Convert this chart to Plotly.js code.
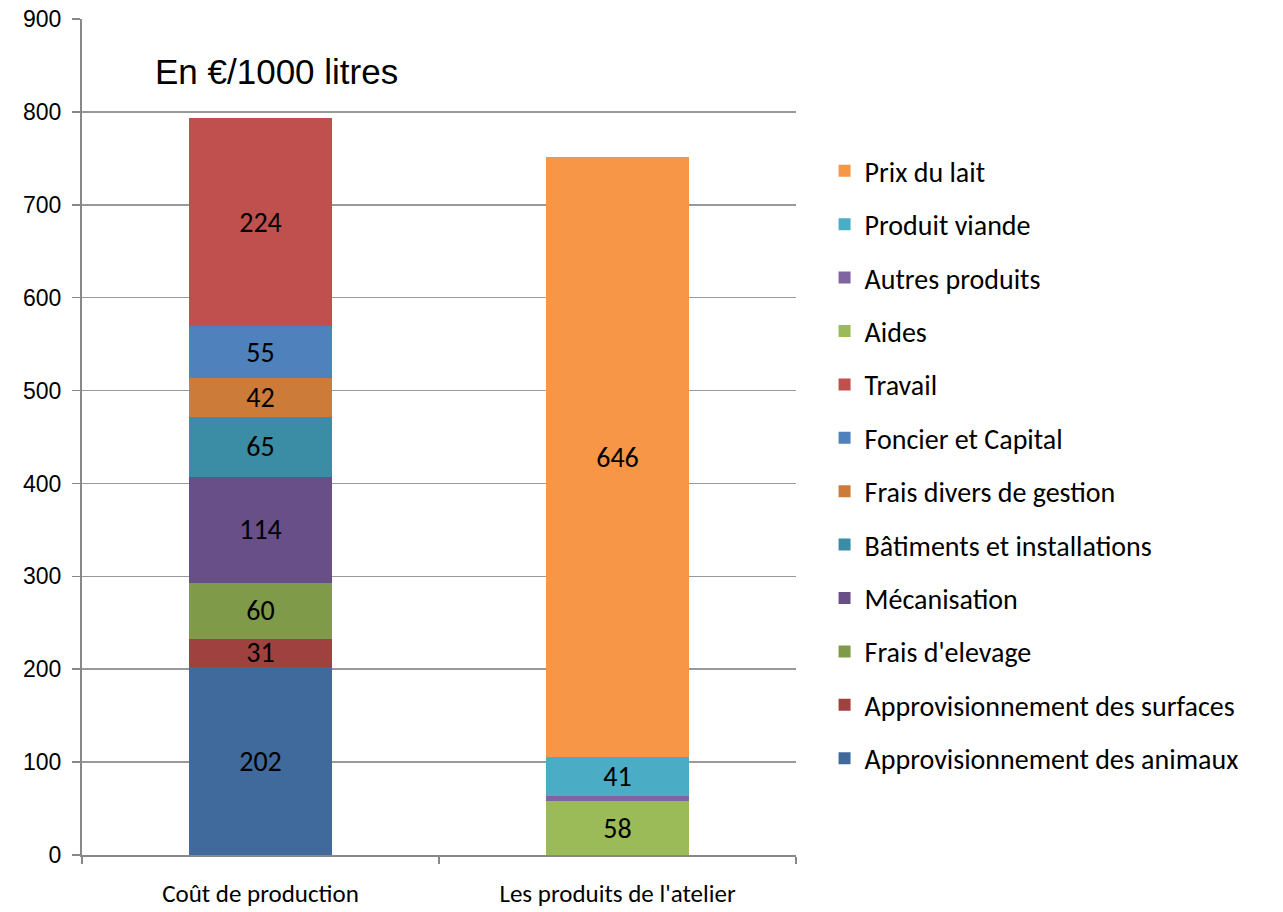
<!DOCTYPE html>
<html>
<head>
<meta charset="utf-8">
<script src="https://cdn.plot.ly/plotly-3.0.1.min.js"></script>
<style>html,body{margin:0;padding:0;background:#fff;}#chart{width:1283px;height:912px;}</style>
</head>
<body>
<div id="chart"></div>
<script>
const categories = ["Coût de production", "Les produits de l'atelier"];
const seriesNames = [
  "Approvisionnement des animaux",
  "Approvisionnement des surfaces",
  "Frais d'elevage",
  "Mécanisation",
  "Bâtiments et installations",
  "Frais divers de gestion",
  "Foncier et Capital",
  "Travail",
  "Aides",
  "Autres produits",
  "Produit viande",
  "Prix du lait"
];
const coutValues    = [202, 31, 60, 114, 65, 42, 55, 224, null, null, null, null];
const produitValues = [null, null, null, null, null, null, null, null, 58, 6, 41, 646];
const showLabel     = [true, true, true, true, true, true, true, true, true, false, true, true];
const colors = ["#406A9C", "#9F413E", "#7F9A48", "#694F88", "#3A8DA4", "#CD7B39",
                "#4F81BD", "#C0504D", "#9BBB59", "#8064A2", "#4BACC6", "#F79646"];
const yTicks = [0, 100, 200, 300, 400, 500, 600, 700, 800, 900];
const chartTitle = "En €/1000 litres";

const calibri = "Carlito, 'Noto Sans', 'Open Sans', sans-serif";
const arial = "'Liberation Sans', Arial, sans-serif";

const traces = seriesNames.map((name, i) => {
  const ys = [coutValues[i], produitValues[i]];
  return {
    type: "bar",
    name: name,
    x: categories,
    y: ys,
    legendgroup: "g" + i,
    legendrank: seriesNames.length - i,
    marker: {color: colors[i], line: {width: 0}},
    text: ys.map(v => (v === null || !showLabel[i]) ? "" : String(v)),
    texttemplate: "%{text}",
    textposition: "inside",
    insidetextanchor: "middle",
    textangle: 0,
    constraintext: "none",
    textfont: {family: calibri, size: 28, color: "#000"},
    hoverinfo: "name+y"
  };
});

const layout = {
  width: 1283,
  height: 912,
  paper_bgcolor: "#fff",
  plot_bgcolor: "#fff",
  margin: {l: 82, r: 487, t: 19, b: 57},
  barmode: "stack",
  bargap: 0.6,
  showlegend: true,
  legend: {
    x: 1.04, xanchor: "left",
    y: 0.467, yanchor: "middle",
    traceorder: "grouped",
    tracegroupgap: 14,
    font: {family: calibri, size: 28, color: "#000"},
    itemwidth: 30,
    bgcolor: "rgba(0,0,0,0)"
  },
  xaxis: {
    type: "category",
    showline: true,
    linecolor: "#888",
    linewidth: 2,
    ticks: "outside",
    tickson: "boundaries",
    ticklen: 7,
    tickcolor: "#888",
    tickwidth: 1.5,
    ticklabelstandoff: 15,
    tickfont: {family: calibri, size: 25, color: "#000"},
    showgrid: false,
    fixedrange: true
  },
  yaxis: {
    range: [0, 900],
    tickvals: yTicks,
    ticktext: yTicks.map(String),
    showline: true,
    linecolor: "#888",
    linewidth: 2,
    ticks: "outside",
    ticklen: 8,
    tickcolor: "#888",
    tickwidth: 1.5,
    showgrid: true,
    gridcolor: "#999",
    gridwidth: 1.5,
    zeroline: false,
    ticklabelstandoff: 6,
    tickfont: {family: arial, size: 23, color: "#000"},
    fixedrange: true
  },
  annotations: [{
    text: chartTitle,
    xref: "paper", yref: "y",
    x: 0.1, y: 843,
    xanchor: "left", yanchor: "middle",
    showarrow: false,
    font: {family: arial, size: 35, color: "#000"}
  }]
};

Plotly.newPlot("chart", traces, layout, {displayModeBar: false, staticPlot: true});
</script>
</body>
</html>
